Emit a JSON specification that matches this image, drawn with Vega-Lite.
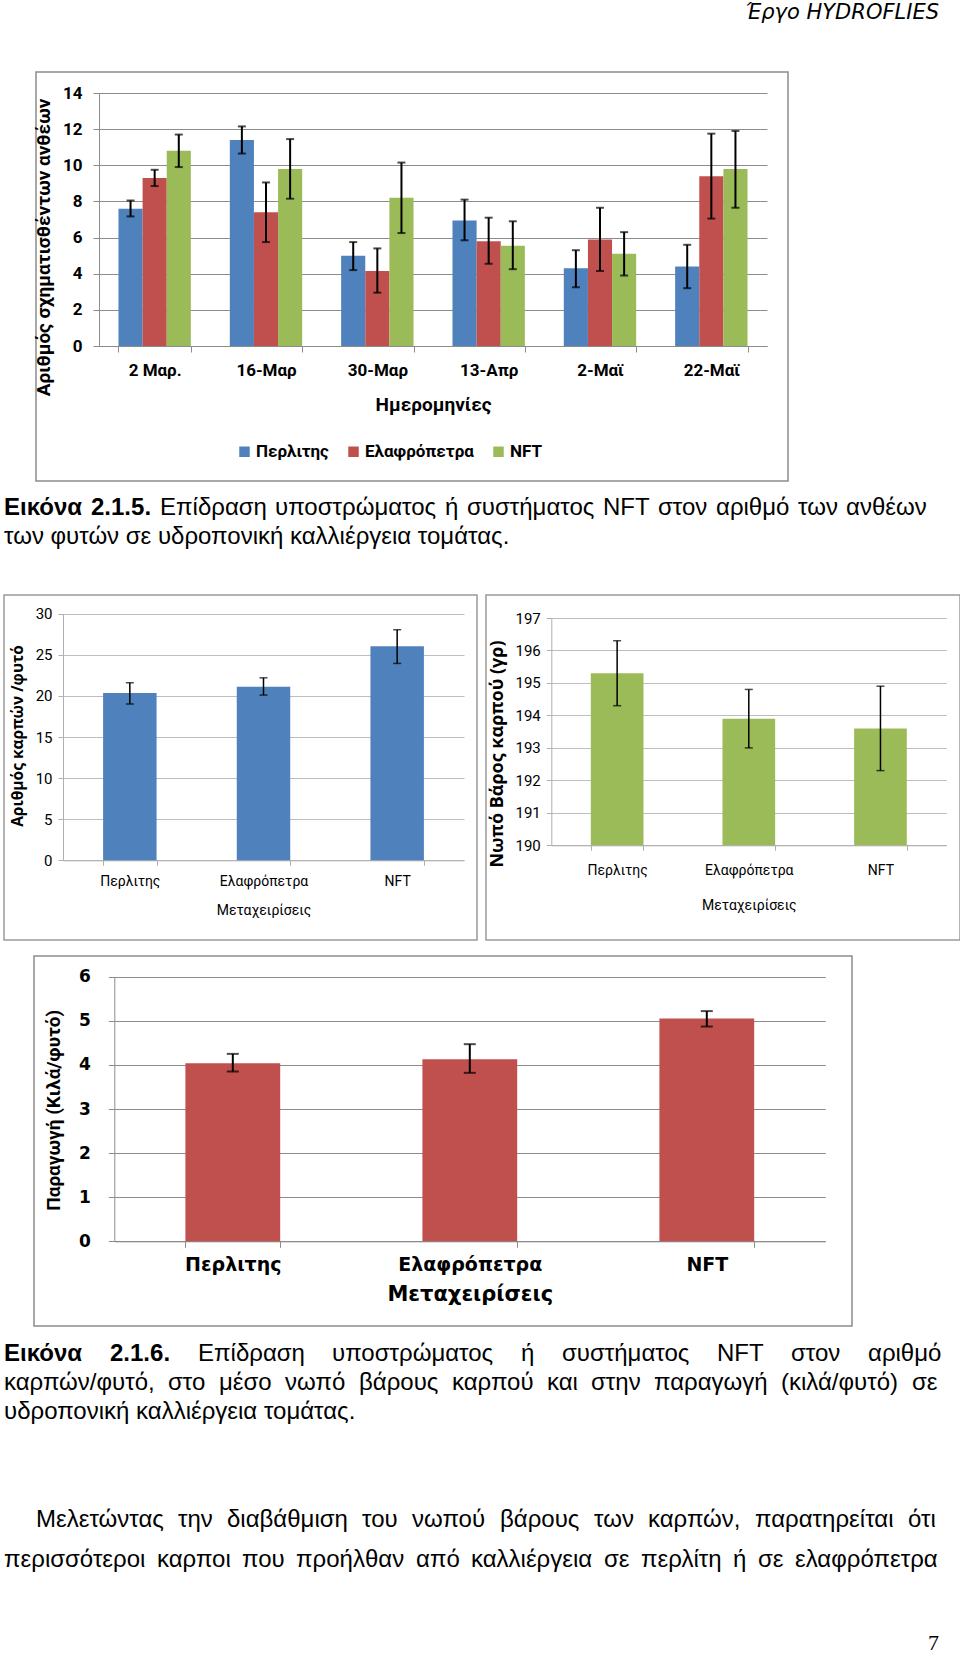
{
  "$schema": "https://vega.github.io/schema/vega-lite/v6.json",
  "padding": {"left": 3, "top": 2, "right": 0, "bottom": 0},
  "background": "white",
  "config": {
    "view": {"stroke": null},
    "concat": {"spacing": 0},
    "title": {"font": "Liberation Sans", "fontSize": 24, "fontWeight": "normal", "color": "#000000", "anchor": "start", "offset": 0, "frame": "group"}
  },
  "datasets": {
    "c1": [
      {"d": "2 Μαρ.", "s": "Περλιτης", "v": 7.6, "lo": 7.17, "hi": 8.05},
      {"d": "2 Μαρ.", "s": "Ελαφρόπετρα", "v": 9.3, "lo": 8.85, "hi": 9.75},
      {"d": "2 Μαρ.", "s": "NFT", "v": 10.8, "lo": 9.9, "hi": 11.7},
      {"d": "16-Μαρ", "s": "Περλιτης", "v": 11.4, "lo": 10.65, "hi": 12.15},
      {"d": "16-Μαρ", "s": "Ελαφρόπετρα", "v": 7.4, "lo": 5.75, "hi": 9.05},
      {"d": "16-Μαρ", "s": "NFT", "v": 9.8, "lo": 8.15, "hi": 11.45},
      {"d": "30-Μαρ", "s": "Περλιτης", "v": 5.0, "lo": 4.2, "hi": 5.75},
      {"d": "30-Μαρ", "s": "Ελαφρόπετρα", "v": 4.15, "lo": 2.95, "hi": 5.4},
      {"d": "30-Μαρ", "s": "NFT", "v": 8.2, "lo": 6.25, "hi": 10.15},
      {"d": "13-Απρ", "s": "Περλιτης", "v": 6.95, "lo": 5.85, "hi": 8.1},
      {"d": "13-Απρ", "s": "Ελαφρόπετρα", "v": 5.8, "lo": 4.55, "hi": 7.1},
      {"d": "13-Απρ", "s": "NFT", "v": 5.55, "lo": 4.25, "hi": 6.9},
      {"d": "2-Μαϊ", "s": "Περλιτης", "v": 4.3, "lo": 3.25, "hi": 5.3},
      {"d": "2-Μαϊ", "s": "Ελαφρόπετρα", "v": 5.9, "lo": 4.15, "hi": 7.65},
      {"d": "2-Μαϊ", "s": "NFT", "v": 5.1, "lo": 3.9, "hi": 6.3},
      {"d": "22-Μαϊ", "s": "Περλιτης", "v": 4.4, "lo": 3.2, "hi": 5.6},
      {"d": "22-Μαϊ", "s": "Ελαφρόπετρα", "v": 9.4, "lo": 7.05, "hi": 11.75},
      {"d": "22-Μαϊ", "s": "NFT", "v": 9.8, "lo": 7.65, "hi": 11.9}
    ],
    "c2a": [
      {"t": "Περλιτης", "v": 20.35, "lo": 19.0, "hi": 21.6},
      {"t": "Ελαφρόπετρα", "v": 21.1, "lo": 20.1, "hi": 22.2},
      {"t": "NFT", "v": 26.05, "lo": 23.95, "hi": 28.05}
    ],
    "c2b": [
      {"t": "Περλιτης", "v": 195.3, "lo": 194.3, "hi": 196.3},
      {"t": "Ελαφρόπετρα", "v": 193.9, "lo": 193.0, "hi": 194.8},
      {"t": "NFT", "v": 193.6, "lo": 192.3, "hi": 194.9}
    ],
    "c3": [
      {"t": "Περλιτης", "v": 4.04, "lo": 3.85, "hi": 4.25},
      {"t": "Ελαφρόπετρα", "v": 4.13, "lo": 3.82, "hi": 4.47},
      {"t": "NFT", "v": 5.05, "lo": 4.87, "hi": 5.22}
    ]
  },
  "vconcat": [
    {"width": 935, "height": 44, "data": {"values": []}, "mark": "point",
     "title": {"text": "Έργο HYDROFLIES", "orient": "top", "anchor": "end", "font": "DejaVu Sans", "fontStyle": "italic", "fontSize": 21}},
    {"hconcat": [
      {"width": 1, "height": 1, "data": {"values": []}, "mark": "point"},
      {"width": 752, "height": 409, "view": {"stroke": "#8c8c8c", "strokeWidth": 1.5},
       "data": {"name": "c1"},
       "encoding": {
         "x": {"field": "d", "type": "nominal", "sort": null,
               "scale": {"domain": ["2 Μαρ.", "16-Μαρ", "30-Μαρ", "13-Απρ", "2-Μαϊ", "22-Μαϊ"], "range": [63, 731], "paddingInner": 0.35, "paddingOuter": 0.175},
               "axis": {"orient": "bottom", "offset": -135, "labelAngle": 0, "domainColor": "#8c8c8c", "tickColor": "#8c8c8c", "tickSize": 6, "tickBand": "extent",
                        "labelFont": "Roboto", "labelFontSize": 17, "labelFontWeight": "bold", "labelColor": "#000000", "labelPadding": 10,
                        "title": "Ημερομηνίες", "titleFont": "Roboto", "titleFontSize": 19, "titleFontWeight": "bold", "titleColor": "#000000", "titleY": 58, "titleBaseline": "middle"}},
         "xOffset": {"field": "s", "type": "nominal", "scale": {"domain": ["Περλιτης", "Ελαφρόπετρα", "NFT"], "paddingInner": 0, "paddingOuter": 0}}
       },
       "layer": [
         {"mark": {"type": "bar"},
          "encoding": {
            "y": {"field": "v", "type": "quantitative", "scale": {"domain": [0, 14], "range": [274, 21], "nice": false, "zero": false},
                  "axis": {"orient": "left", "offset": -63, "values": [0, 2, 4, 6, 8, 10, 12, 14], "grid": true, "gridColor": "#8c8c8c", "domainColor": "#8c8c8c", "tickColor": "#8c8c8c", "tickSize": 6,
                           "labelFont": "Roboto", "labelFontSize": 17, "labelFontWeight": "bold", "labelColor": "#000000", "labelPadding": 11,
                           "title": "Αριθμός σχηματισθέντων ανθέων", "titleFont": "Roboto", "titleFontSize": 19, "titleFontWeight": "bold", "titleColor": "#000000",
                           "titleX": -56, "titleY": 175, "titleAngle": 270, "titleAlign": "center", "titleBaseline": "middle"}},
            "y2": {"datum": 0},
            "color": {"field": "s", "type": "nominal", "scale": {"domain": ["Περλιτης", "Ελαφρόπετρα", "NFT"], "range": ["#4F81BD", "#C0504D", "#9BBB59"]},
                      "legend": {"orient": "none", "legendX": 232, "legendY": 416, "direction": "horizontal", "title": null, "symbolType": "square", "symbolSize": 110, "symbolStrokeWidth": 0,
                                 "labelFont": "Roboto", "labelFontSize": 17, "labelFontWeight": "bold", "labelColor": "#000000", "columnPadding": 16, "labelOffset": 3, "padding": 0}}
          }},
         {"mark": {"type": "rule", "color": "#000000", "strokeWidth": 2},
          "encoding": {"y": {"field": "lo", "type": "quantitative", "scale": {"domain": [0, 14], "range": [274, 21], "nice": false, "zero": false}}, "y2": {"field": "hi"}}},
         {"mark": {"type": "tick", "color": "#000000", "thickness": 2, "size": 8},
          "encoding": {"y": {"field": "lo", "type": "quantitative", "scale": {"domain": [0, 14], "range": [274, 21], "nice": false, "zero": false}}}},
         {"mark": {"type": "tick", "color": "#000000", "thickness": 2, "size": 8},
          "encoding": {"y": {"field": "hi", "type": "quantitative", "scale": {"domain": [0, 14], "range": [274, 21], "nice": false, "zero": false}}}}
       ]}
    ], "spacing": 28},
    {"hconcat": [
      {"width": 1, "height": 10, "data": {"values": []}, "mark": "point", "title": {"text": "Εικόνα", "orient": "bottom", "fontWeight": "bold"}},
      {"width": 1, "height": 10, "data": {"values": []}, "mark": "point", "title": {"text": "2.1.5.", "orient": "bottom", "fontWeight": "bold"}},
      {"width": 1, "height": 10, "data": {"values": []}, "mark": "point", "title": {"text": "Επίδραση", "orient": "bottom"}},
      {"width": 1, "height": 10, "data": {"values": []}, "mark": "point", "title": {"text": "υποστρώματος", "orient": "bottom"}},
      {"width": 1, "height": 10, "data": {"values": []}, "mark": "point", "title": {"text": "ή", "orient": "bottom"}},
      {"width": 1, "height": 10, "data": {"values": []}, "mark": "point", "title": {"text": "συστήματος", "orient": "bottom"}},
      {"width": 1, "height": 10, "data": {"values": []}, "mark": "point", "title": {"text": "NFT", "orient": "bottom"}},
      {"width": 1, "height": 10, "data": {"values": []}, "mark": "point", "title": {"text": "στον", "orient": "bottom"}},
      {"width": 1, "height": 10, "data": {"values": []}, "mark": "point", "title": {"text": "αριθμό", "orient": "bottom"}},
      {"width": 1, "height": 10, "data": {"values": []}, "mark": "point", "title": {"text": "των", "orient": "bottom"}},
      {"width": 1, "height": 10, "data": {"values": []}, "mark": "point", "title": {"text": "ανθέων", "orient": "bottom"}}
    ], "spacing": 8},
    {"width": 1, "height": 1, "data": {"values": []}, "mark": "point", "title": {"text": "των φυτών σε υδροπονική καλλιέργεια τομάτας.", "orient": "bottom"}},
    {"width": 1, "height": 45, "data": {"values": []}, "mark": "point"},
    {"hconcat": [
      {"width": 473, "height": 345, "view": {"stroke": "#9a9a9a", "strokeWidth": 1.5},
       "data": {"name": "c2a"},
       "encoding": {
         "x": {"field": "t", "type": "nominal", "sort": null,
               "scale": {"domain": ["Περλιτης", "Ελαφρόπετρα", "NFT"], "range": [59, 460], "paddingInner": 0.6, "paddingOuter": 0.3},
               "axis": {"orient": "bottom", "offset": -79.7, "labelAngle": 0, "domainColor": "#b0b0b0", "tickColor": "#b0b0b0", "tickSize": 5, "tickBand": "extent",
                        "labelFont": "Roboto", "labelFontSize": 14, "labelColor": "#000000", "labelPadding": 9,
                        "title": "Μεταχειρίσεις", "titleFont": "Roboto", "titleFontSize": 14, "titleFontWeight": "normal", "titleColor": "#000000", "titleY": 50, "titleBaseline": "middle"}}
       },
       "layer": [
         {"mark": {"type": "bar", "color": "#4F81BD"},
          "encoding": {
            "y": {"field": "v", "type": "quantitative", "scale": {"domain": [0, 30], "range": [265.3, 18.7], "nice": false, "zero": false},
                  "axis": {"orient": "left", "offset": -59, "values": [0, 5, 10, 15, 20, 25, 30], "grid": true, "gridColor": "#bdbdbd", "domainColor": "#b0b0b0", "tickColor": "#b0b0b0", "tickSize": 5,
                           "labelFont": "Roboto", "labelFontSize": 15, "labelColor": "#000000", "labelPadding": 6,
                           "title": "Αριθμός καρπών /φυτό", "titleFont": "Open Sans", "titleFontSize": 15.5, "titleFontWeight": "bold", "titleColor": "#000000",
                           "titleX": -46, "titleY": 140.5, "titleAngle": 270, "titleAlign": "center", "titleBaseline": "middle"}},
            "y2": {"datum": 0}
          }},
         {"mark": {"type": "rule", "color": "#000000", "strokeWidth": 1.5},
          "encoding": {"y": {"field": "lo", "type": "quantitative", "scale": {"domain": [0, 30], "range": [265.3, 18.7], "nice": false, "zero": false}}, "y2": {"field": "hi"}}},
         {"mark": {"type": "tick", "color": "#000000", "thickness": 1.5, "size": 8},
          "encoding": {"y": {"field": "lo", "type": "quantitative", "scale": {"domain": [0, 30], "range": [265.3, 18.7], "nice": false, "zero": false}}}},
         {"mark": {"type": "tick", "color": "#000000", "thickness": 1.5, "size": 8},
          "encoding": {"y": {"field": "hi", "type": "quantitative", "scale": {"domain": [0, 30], "range": [265.3, 18.7], "nice": false, "zero": false}}}}
       ]},
      {"width": 474, "height": 345, "view": {"stroke": "#9a9a9a", "strokeWidth": 1.5},
       "data": {"name": "c2b"},
       "encoding": {
         "x": {"field": "t", "type": "nominal", "sort": null,
               "scale": {"domain": ["Περλιτης", "Ελαφρόπετρα", "NFT"], "range": [65.3, 460.3], "paddingInner": 0.6, "paddingOuter": 0.3},
               "axis": {"orient": "bottom", "offset": -94.7, "labelAngle": 0, "domainColor": "#b0b0b0", "tickColor": "#b0b0b0", "tickSize": 5, "tickBand": "extent",
                        "labelFont": "Roboto", "labelFontSize": 14, "labelColor": "#000000", "labelPadding": 13,
                        "title": "Μεταχειρίσεις", "titleFont": "Roboto", "titleFontSize": 14, "titleFontWeight": "normal", "titleColor": "#000000", "titleY": 60, "titleBaseline": "middle"}}
       },
       "layer": [
         {"mark": {"type": "bar", "color": "#9BBB59"},
          "encoding": {
            "y": {"field": "v", "type": "quantitative", "scale": {"domain": [190, 197], "range": [250.3, 23], "nice": false, "zero": false},
                  "axis": {"orient": "left", "offset": -65.3, "values": [190, 191, 192, 193, 194, 195, 196, 197], "grid": true, "gridColor": "#bdbdbd", "domainColor": "#b0b0b0", "tickColor": "#b0b0b0", "tickSize": 5,
                           "labelFont": "Roboto", "labelFontSize": 15, "labelColor": "#000000", "labelPadding": 6,
                           "title": "Νωπό Βάρος καρπού (γρ)", "titleFont": "Open Sans", "titleFontSize": 18, "titleFontWeight": "bold", "titleColor": "#000000",
                           "titleX": -54, "titleY": 158.5, "titleAngle": 270, "titleAlign": "center", "titleBaseline": "middle"}},
            "y2": {"datum": 190}
          }},
         {"mark": {"type": "rule", "color": "#000000", "strokeWidth": 1.5},
          "encoding": {"y": {"field": "lo", "type": "quantitative", "scale": {"domain": [190, 197], "range": [250.3, 23], "nice": false, "zero": false}}, "y2": {"field": "hi"}}},
         {"mark": {"type": "tick", "color": "#000000", "thickness": 1.5, "size": 8},
          "encoding": {"y": {"field": "lo", "type": "quantitative", "scale": {"domain": [190, 197], "range": [250.3, 23], "nice": false, "zero": false}}}},
         {"mark": {"type": "tick", "color": "#000000", "thickness": 1.5, "size": 8},
          "encoding": {"y": {"field": "hi", "type": "quantitative", "scale": {"domain": [190, 197], "range": [250.3, 23], "nice": false, "zero": false}}}}
       ]}
    ], "spacing": 7},
    {"width": 1, "height": 14, "data": {"values": []}, "mark": "point"},
    {"hconcat": [
      {"width": 1, "height": 1, "data": {"values": []}, "mark": "point"},
      {"width": 818, "height": 370, "view": {"stroke": "#8c8c8c", "strokeWidth": 1.5},
       "data": {"name": "c3"},
       "encoding": {
         "x": {"field": "t", "type": "nominal", "sort": null,
               "scale": {"domain": ["Περλιτης", "Ελαφρόπετρα", "NFT"], "range": [80.3, 791.3], "paddingInner": 0.6, "paddingOuter": 0.3},
               "axis": {"orient": "bottom", "offset": -84.7, "labelAngle": 0, "domainColor": "#8c8c8c", "tickColor": "#8c8c8c", "tickSize": 6, "tickBand": "extent",
                        "labelFont": "DejaVu Sans", "labelFontSize": 19, "labelFontWeight": "bold", "labelColor": "#000000", "labelPadding": 8,
                        "title": "Μεταχειρίσεις", "titleFont": "DejaVu Sans", "titleFontSize": 21, "titleFontWeight": "bold", "titleColor": "#000000", "titleY": 53, "titleBaseline": "middle"}}
       },
       "layer": [
         {"mark": {"type": "bar", "color": "#C0504D"},
          "encoding": {
            "y": {"field": "v", "type": "quantitative", "scale": {"domain": [0, 6], "range": [285.3, 20.7], "nice": false, "zero": false},
                  "axis": {"orient": "left", "offset": -80.3, "values": [0, 1, 2, 3, 4, 5, 6], "format": "d", "grid": true, "gridColor": "#8c8c8c", "domainColor": "#8c8c8c", "tickColor": "#8c8c8c", "tickSize": 6,
                           "labelFont": "DejaVu Sans", "labelFontSize": 17, "labelFontWeight": "bold", "labelColor": "#000000", "labelPadding": 18,
                           "title": "Παραγωγή (Κιλά/φυτό)", "titleFont": "Roboto", "titleFontSize": 19, "titleFontWeight": "bold", "titleColor": "#000000",
                           "titleX": -61, "titleY": 153.8, "titleAngle": 270, "titleAlign": "center", "titleBaseline": "middle"}},
            "y2": {"datum": 0}
          }},
         {"mark": {"type": "rule", "color": "#000000", "strokeWidth": 2},
          "encoding": {"y": {"field": "lo", "type": "quantitative", "scale": {"domain": [0, 6], "range": [285.3, 20.7], "nice": false, "zero": false}}, "y2": {"field": "hi"}}},
         {"mark": {"type": "tick", "color": "#000000", "thickness": 2, "size": 12},
          "encoding": {"y": {"field": "lo", "type": "quantitative", "scale": {"domain": [0, 6], "range": [285.3, 20.7], "nice": false, "zero": false}}}},
         {"mark": {"type": "tick", "color": "#000000", "thickness": 2, "size": 12},
          "encoding": {"y": {"field": "hi", "type": "quantitative", "scale": {"domain": [0, 6], "range": [285.3, 20.7], "nice": false, "zero": false}}}}
       ]}
    ], "spacing": 28},
    {"hconcat": [
      {"width": 1, "height": 11, "data": {"values": []}, "mark": "point", "title": {"text": "Εικόνα", "orient": "bottom", "fontWeight": "bold"}},
      {"width": 1, "height": 11, "data": {"values": []}, "mark": "point", "title": {"text": "2.1.6.", "orient": "bottom", "fontWeight": "bold"}},
      {"width": 1, "height": 11, "data": {"values": []}, "mark": "point", "title": {"text": "Επίδραση", "orient": "bottom"}},
      {"width": 1, "height": 11, "data": {"values": []}, "mark": "point", "title": {"text": "υποστρώματος", "orient": "bottom"}},
      {"width": 1, "height": 11, "data": {"values": []}, "mark": "point", "title": {"text": "ή", "orient": "bottom"}},
      {"width": 1, "height": 11, "data": {"values": []}, "mark": "point", "title": {"text": "συστήματος", "orient": "bottom"}},
      {"width": 1, "height": 11, "data": {"values": []}, "mark": "point", "title": {"text": "NFT", "orient": "bottom"}},
      {"width": 1, "height": 11, "data": {"values": []}, "mark": "point", "title": {"text": "στον", "orient": "bottom"}},
      {"width": 1, "height": 11, "data": {"values": []}, "mark": "point", "title": {"text": "αριθμό", "orient": "bottom"}}
    ], "spacing": 27},
    {"hconcat": [
      {"width": 1, "height": 1, "data": {"values": []}, "mark": "point", "title": {"text": "καρπών/φυτό,", "orient": "bottom"}},
      {"width": 1, "height": 1, "data": {"values": []}, "mark": "point", "title": {"text": "στο", "orient": "bottom"}},
      {"width": 1, "height": 1, "data": {"values": []}, "mark": "point", "title": {"text": "μέσο", "orient": "bottom"}},
      {"width": 1, "height": 1, "data": {"values": []}, "mark": "point", "title": {"text": "νωπό", "orient": "bottom"}},
      {"width": 1, "height": 1, "data": {"values": []}, "mark": "point", "title": {"text": "βάρους", "orient": "bottom"}},
      {"width": 1, "height": 1, "data": {"values": []}, "mark": "point", "title": {"text": "καρπού", "orient": "bottom"}},
      {"width": 1, "height": 1, "data": {"values": []}, "mark": "point", "title": {"text": "και", "orient": "bottom"}},
      {"width": 1, "height": 1, "data": {"values": []}, "mark": "point", "title": {"text": "στην", "orient": "bottom"}},
      {"width": 1, "height": 1, "data": {"values": []}, "mark": "point", "title": {"text": "παραγωγή", "orient": "bottom"}},
      {"width": 1, "height": 1, "data": {"values": []}, "mark": "point", "title": {"text": "(κιλά/φυτό)", "orient": "bottom"}},
      {"width": 1, "height": 1, "data": {"values": []}, "mark": "point", "title": {"text": "σε", "orient": "bottom"}}
    ], "spacing": 13},
    {"width": 1, "height": 1, "data": {"values": []}, "mark": "point", "title": {"text": "υδροπονική καλλιέργεια τομάτας.", "orient": "bottom"}},
    {"hconcat": [
      {"width": 18, "height": 1, "data": {"values": []}, "mark": "point"},
      {"width": 1, "height": 80, "data": {"values": []}, "mark": "point", "title": {"text": "Μελετώντας", "orient": "bottom"}},
      {"width": 1, "height": 80, "data": {"values": []}, "mark": "point", "title": {"text": "την", "orient": "bottom"}},
      {"width": 1, "height": 80, "data": {"values": []}, "mark": "point", "title": {"text": "διαβάθμιση", "orient": "bottom"}},
      {"width": 1, "height": 80, "data": {"values": []}, "mark": "point", "title": {"text": "του", "orient": "bottom"}},
      {"width": 1, "height": 80, "data": {"values": []}, "mark": "point", "title": {"text": "νωπού", "orient": "bottom"}},
      {"width": 1, "height": 80, "data": {"values": []}, "mark": "point", "title": {"text": "βάρους", "orient": "bottom"}},
      {"width": 1, "height": 80, "data": {"values": []}, "mark": "point", "title": {"text": "των", "orient": "bottom"}},
      {"width": 1, "height": 80, "data": {"values": []}, "mark": "point", "title": {"text": "καρπών,", "orient": "bottom"}},
      {"width": 1, "height": 80, "data": {"values": []}, "mark": "point", "title": {"text": "παρατηρείται", "orient": "bottom"}},
      {"width": 1, "height": 80, "data": {"values": []}, "mark": "point", "title": {"text": "ότι", "orient": "bottom"}}
    ], "spacing": 14},
    {"hconcat": [
      {"width": 1, "height": 12, "data": {"values": []}, "mark": "point", "title": {"text": "περισσότεροι", "orient": "bottom"}},
      {"width": 1, "height": 12, "data": {"values": []}, "mark": "point", "title": {"text": "καρποι", "orient": "bottom"}},
      {"width": 1, "height": 12, "data": {"values": []}, "mark": "point", "title": {"text": "που", "orient": "bottom"}},
      {"width": 1, "height": 12, "data": {"values": []}, "mark": "point", "title": {"text": "προήλθαν", "orient": "bottom"}},
      {"width": 1, "height": 12, "data": {"values": []}, "mark": "point", "title": {"text": "από", "orient": "bottom"}},
      {"width": 1, "height": 12, "data": {"values": []}, "mark": "point", "title": {"text": "καλλιέργεια", "orient": "bottom"}},
      {"width": 1, "height": 12, "data": {"values": []}, "mark": "point", "title": {"text": "σε", "orient": "bottom"}},
      {"width": 1, "height": 12, "data": {"values": []}, "mark": "point", "title": {"text": "περλίτη", "orient": "bottom"}},
      {"width": 1, "height": 12, "data": {"values": []}, "mark": "point", "title": {"text": "ή", "orient": "bottom"}},
      {"width": 1, "height": 12, "data": {"values": []}, "mark": "point", "title": {"text": "σε", "orient": "bottom"}},
      {"width": 1, "height": 12, "data": {"values": []}, "mark": "point", "title": {"text": "ελαφρόπετρα", "orient": "bottom"}}
    ], "spacing": 11},
    {"width": 935, "height": 57, "data": {"values": []}, "mark": "point",
     "title": {"text": "7", "orient": "bottom", "anchor": "end", "font": "Liberation Serif", "fontSize": 22}}
  ]
}
